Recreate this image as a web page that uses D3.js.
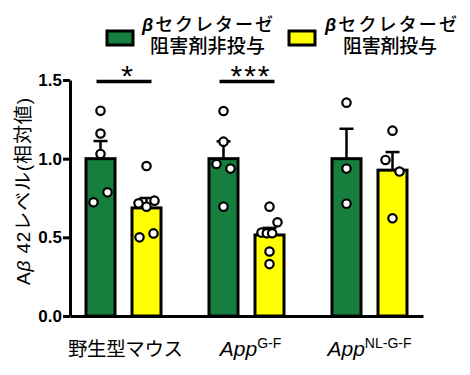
<!DOCTYPE html>
<html>
<head>
<meta charset="utf-8">
<script src="https://cdn.jsdelivr.net/npm/d3@7"></script>
<style>
  body { margin: 0; background: #fff; }
  svg { display: block; }
  .jp { font-family: "Noto Sans CJK JP", sans-serif; }
  .lat { font-family: "Liberation Sans", Arial, sans-serif; }
</style>
</head>
<body>
<svg id="chart" width="470" height="375"></svg>
<script>
// MARK: - Data

const groupNames = ["野生型マウス", "App", "App"];
const groupSups = ["", "G-F", "NL-G-F"];
const seriesNames = ["βセクレターゼ阻害剤非投与", "βセクレターゼ阻害剤投与"];
const seriesColors = ["#167f3e", "#ffff00"];

const untreatedMean = [1.0, 1.0, 1.0];
const treatedMean = [0.687, 0.515, 0.927];
const untreatedSem = [0.112, 0.11, 0.19];
const treatedSem = [0.063, 0.045, 0.115];

const untreatedPoints = [
  [1.305, 1.16, 1.03, 0.723, 0.786],
  [1.303, 1.108, 0.966, 0.937, 0.695],
  [1.356, 0.937, 0.714]
];
const treatedPoints = [
  [0.953, 0.716, 0.695, 0.733, 0.50, 0.525],
  [0.695, 0.53, 0.526, 0.526, 0.596, 0.41, 0.33],
  [1.178, 0.992, 0.918, 0.621]
];

const yTicks = [0, 0.5, 1.0, 1.5];
const sigLabels = [{group: 0, label: "*"}, {group: 1, label: "***"}];
const sigLevel = 1.49;

// MARK: - Layout

const svg = d3.select("#chart");
const x = d3.scalePoint().domain(d3.range(groupNames.length)).range([70, 423]).padding(0.435);
const xs = d3.scalePoint().domain([0, 1]).range([-23, 23]);
const y = d3.scaleLinear().domain([0, 1.5]).range([316, 80]);
const barWidth = 29;

const bars = [];
groupNames.forEach((g, i) => {
  bars.push({group: i, s: 0, mean: untreatedMean[i], sem: untreatedSem[i], pts: untreatedPoints[i]});
  bars.push({group: i, s: 1, mean: treatedMean[i], sem: treatedSem[i], pts: treatedPoints[i]});
});
const cx = d => x(d.group) + xs(d.s);

// spreads points that sit too close to each other, roughly like the prism scatter
function dodge(values) {
  const items = values.map((v, i) => ({v, i, py: y(v), dx: 0}));
  const sorted = items.slice().sort((a, b) => a.py - b.py);
  const clusters = [];
  sorted.forEach(p => {
    const last = clusters[clusters.length - 1];
    if (last && p.py - last[last.length - 1].py < 12) last.push(p);
    else clusters.push([p]);
  });
  clusters.forEach(c => {
    if (c.length < 2) return;
    c.sort((a, b) => a.i - b.i);
    const step = Math.min(14, 16 / (c.length - 1));
    c.forEach((p, k) => { p.dx = (k - (c.length - 1) / 2) * step; });
  });
  return items;
}

// MARK: - Bars

svg.append("g").selectAll("rect").data(bars).join("rect")
  .attr("x", d => cx(d) - barWidth / 2)
  .attr("y", d => y(d.mean))
  .attr("width", barWidth)
  .attr("height", d => y(0) - y(d.mean))
  .attr("fill", d => seriesColors[d.s])
  .attr("stroke", "#000")
  .attr("stroke-width", 3);

const err = svg.append("g").attr("stroke", "#000").attr("stroke-width", 2.5);
err.selectAll("line.v").data(bars).join("line").attr("class", "v")
  .attr("x1", cx).attr("x2", cx)
  .attr("y1", d => y(d.mean)).attr("y2", d => y(d.mean + d.sem));
err.selectAll("line.c").data(bars).join("line").attr("class", "c")
  .attr("x1", d => cx(d) - 7).attr("x2", d => cx(d) + 7)
  .attr("y1", d => y(d.mean + d.sem)).attr("y2", d => y(d.mean + d.sem));

// MARK: - Axes

const yAxis = svg.append("g").attr("transform", "translate(70,0)")
  .call(d3.axisLeft(y).tickValues(yTicks).tickFormat(d3.format(".1f")).tickSize(7).tickSizeOuter(0).tickPadding(1));
yAxis.selectAll("path, line").attr("stroke-width", 3);
yAxis.selectAll("text").attr("class", "lat").attr("font-size", 17).attr("font-weight", "bold").attr("fill", "#000");

const xAxis = svg.append("g").attr("transform", `translate(0,${y(0)})`)
  .call(d3.axisBottom(x).tickSize(0).tickSizeOuter(0).tickFormat(""));
xAxis.select("path").attr("stroke-width", 3);

// MARK: - Points

bars.forEach(b => {
  svg.append("g").selectAll("circle").data(dodge(b.pts)).join("circle")
    .attr("cx", p => cx(b) + p.dx)
    .attr("cy", p => p.py)
    .attr("r", 4.2)
    .attr("fill", "#fff")
    .attr("stroke", "#000")
    .attr("stroke-width", 2.2);
});

// MARK: - Significance

const sig = svg.append("g");
sig.selectAll("line").data(sigLabels).join("line")
  .attr("x1", d => x(d.group) - 27).attr("x2", d => x(d.group) + 28)
  .attr("y1", y(sigLevel)).attr("y2", y(sigLevel))
  .attr("stroke", "#000").attr("stroke-width", 3.5);
sig.selectAll("text").data(sigLabels).join("text")
  .attr("class", "lat")
  .attr("x", d => x(d.group) + 4.5).attr("y", y(sigLevel) + 4)
  .attr("text-anchor", "middle").attr("font-size", 30).attr("letter-spacing", 2)
  .text(d => d.label);

// MARK: - Group labels

const labels = svg.append("g").selectAll("text").data(groupNames).join("text")
  .attr("x", (d, i) => x(i) + (groupSups[i].length > 3 ? 0 : groupSups[i] ? 4 : 2)).attr("y", 356)
  .attr("text-anchor", "middle").attr("font-size", 19.5);
labels.each(function(d, i) {
  const t = d3.select(this);
  if (!groupSups[i]) { t.attr("class", "jp").attr("textLength", 115).text(d); return; }
  t.attr("class", "lat");
  t.append("tspan").attr("font-style", "italic").attr("font-size", 21).text(d);
  t.append("tspan").attr("font-size", 14).attr("dy", -8).text(groupSups[i]);
});

// MARK: - Y label

svg.append("text")
  .attr("transform", "translate(30,191.5) rotate(-90)")
  .attr("text-anchor", "middle").attr("font-size", 19)
  .attr("font-family", "'Liberation Sans', 'Noto Sans CJK JP', sans-serif")
  .attr("textLength", 187).attr("lengthAdjust", "spacing")
  .call(t => {
    t.append("tspan").text("A");
    t.append("tspan").attr("font-style", "italic").text("β");
    t.append("tspan").text(" 42レベル(相対値)");
  });

// MARK: - Legend

const legendX = [120, 302];
const legendText1 = [[207.5, 131], [391, 132]];
const legendText2 = [[207.5, 115], [390, 94]];
const legend = svg.append("g").selectAll("g").data(seriesNames).join("g");
legend.append("rect")
  .attr("x", (d, i) => legendX[i] - 13).attr("y", 31)
  .attr("width", 26).attr("height", 14)
  .attr("fill", (d, i) => seriesColors[i]).attr("stroke", "#000").attr("stroke-width", 3);
legend.append("text")
  .attr("class", "jp").attr("text-anchor", "middle")
  .attr("x", (d, i) => legendText1[i][0]).attr("y", 30.5).attr("font-size", 18).attr("font-weight", 500)
  .attr("textLength", (d, i) => legendText1[i][1]).attr("lengthAdjust", "spacing")
  .call(t => {
    t.append("tspan").attr("font-style", "italic").attr("font-family", "'Liberation Sans'").attr("font-weight", "bold").text("β");
    t.append("tspan").text("セクレターゼ");
  });
legend.append("text")
  .attr("class", "jp").attr("text-anchor", "middle")
  .attr("x", (d, i) => legendText2[i][0]).attr("y", 52.5).attr("font-size", 19).attr("font-weight", 500)
  .attr("textLength", (d, i) => legendText2[i][1]).attr("lengthAdjust", "spacing")
  .text(d => d.replace("βセクレターゼ", ""));
</script>
</body>
</html>
